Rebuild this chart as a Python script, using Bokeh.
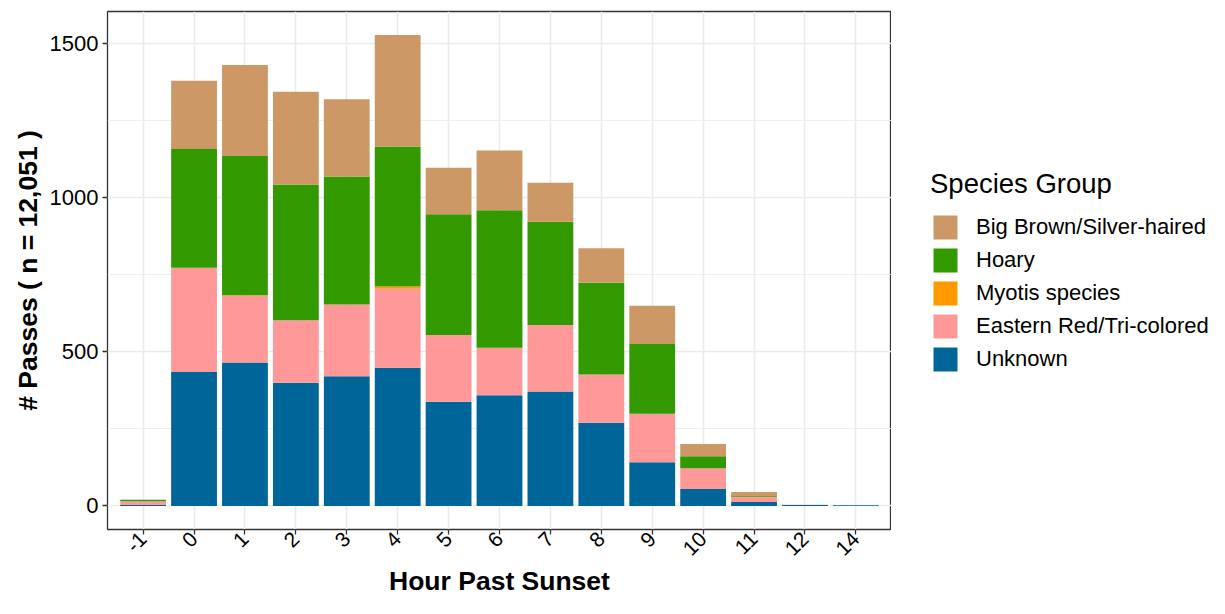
import math
from bokeh.plotting import figure
from bokeh.layouts import row
from bokeh.models import (FactorRange, Range1d, SingleIntervalTicker, Legend,
                          LegendItem, ColumnDataSource)
from bokeh.embed import file_html
from bokeh.resources import INLINE

# ---- data ----
hours = ["-1", "0", "1", "2", "3", "4", "5", "6", "7", "8", "9", "10", "11", "12", "14"]
unknown = [3, 434, 465, 399, 420, 448, 338, 359, 371, 270, 142, 55, 13, 3, 2]
eastern_red = [12, 338, 216, 203, 233, 256, 216, 154, 215, 156, 157, 67, 17, 1, 0]
myotis = [0, 0, 2, 0, 0, 7, 0, 0, 0, 0, 0, 0, 0, 0, 0]
hoary = [5, 385, 451, 440, 415, 454, 391, 445, 335, 297, 226, 39, 2, 0, 0]
big_brown = [0, 221, 295, 300, 250, 361, 151, 194, 126, 112, 124, 40, 13, 0, 0]

groups = ["Unknown", "Eastern Red/Tri-colored", "Myotis species", "Hoary", "Big Brown/Silver-haired"]
colors = ["#006699", "#FF9999", "#FF9900", "#339900", "#CC9966"]
y_ticks_interval = 500

source = ColumnDataSource(dict(hour=hours, Unknown=unknown,
                               **{"Eastern Red/Tri-colored": eastern_red,
                                  "Myotis species": myotis,
                                  "Hoary": hoary,
                                  "Big Brown/Silver-haired": big_brown}))

totals = [sum(v) for v in zip(unknown, eastern_red, myotis, hoary, big_brown)]
ymax = max(totals)
pad = ymax * 0.05

FONT = "Liberation Sans"
H = 598

p = figure(x_range=FactorRange(*hours, range_padding=0.2, range_padding_units="absolute"),
           y_range=Range1d(-pad, ymax + pad),
           width=891, height=H,
           min_border_left=107, min_border_top=11, min_border_bottom=60, min_border_right=0,
           output_backend="svg", toolbar_location=None)

renderers = p.vbar_stack(groups, x="hour", width=0.9, color=colors, source=source,
                         line_color=None)

# axes
p.yaxis.ticker = SingleIntervalTicker(interval=y_ticks_interval, num_minor_ticks=2)
p.yaxis.axis_label = "# Passes ( n = 12,051 )"
p.xaxis.axis_label = "Hour Past Sunset"
for ax in (p.xaxis, p.yaxis):
    ax.axis_line_color = None
    ax.major_tick_line_color = "#333333"
    ax.major_tick_line_width = 1.3
    ax.major_tick_out = 5
    ax.major_tick_in = 0
    ax.minor_tick_line_color = None
    ax.major_label_text_font = FONT
    ax.major_label_text_font_size = "22px"
    ax.major_label_text_color = "black"
    ax.axis_label_text_font = FONT
    ax.axis_label_text_font_size = "26.5px"
    ax.axis_label_text_font_style = "bold"
    ax.axis_label_text_color = "black"
    ax.major_label_standoff = 4
    ax.axis_label_standoff = 4
p.xaxis.major_label_orientation = math.pi / 4
p.xaxis.major_label_text_font_size = "21px"
p.xaxis.major_label_standoff = 1
p.xaxis.axis_label_standoff = 1

# grid (theme_bw like)
p.xgrid.grid_line_color = "#EBEBEB"
p.xgrid.grid_line_width = 1.6
p.ygrid.grid_line_color = "#EBEBEB"
p.ygrid.grid_line_width = 1.6
p.ygrid.minor_grid_line_color = "#EBEBEB"
p.ygrid.minor_grid_line_width = 0.8

p.outline_line_color = "#333333"
p.outline_line_width = 1.3
p.background_fill_color = "white"
p.border_fill_color = "white"

# ---- legend panel (separate canvas to the right) ----
# hidden copy of the stacked bars; it only provides the legend keys
p2 = figure(width=318, height=H, x_range=FactorRange(*hours), y_range=Range1d(-pad, ymax + pad),
            x_axis_location=None, y_axis_location=None,
            min_border=0, output_backend="svg", toolbar_location=None)
p2.grid.visible = False
p2.outline_line_color = None
p2.background_fill_color = "white"
p2.border_fill_color = "white"

key_renderers = p2.vbar_stack(groups, x="hour", width=0.9, color=colors, source=source,
                              line_color=None)
for r in key_renderers:
    r.visible = False

items = [LegendItem(label=g, renderers=[r]) for g, r in zip(groups, key_renderers)][::-1]
legend = Legend(items=items, title="Species Group", location=(39, 155))
legend.title_text_font = FONT
legend.title_text_font_size = "27.5px"
legend.title_text_font_style = "normal"
legend.title_text_color = "black"
legend.title_standoff = 12
legend.label_text_font = FONT
legend.label_text_font_size = "22px"
legend.label_text_color = "black"
legend.glyph_width = 30
legend.glyph_height = 30
legend.label_height = 30
legend.spacing = 3
legend.label_standoff = 16
legend.padding = 0
legend.margin = 0
legend.border_line_color = None
legend.background_fill_alpha = 0
legend.inactive_fill_alpha = 0
legend.click_policy = "none"
p2.add_layout(legend, "center")

layout = row(p, p2, spacing=0)
open("out.html", "w").write(file_html(layout, INLINE))
